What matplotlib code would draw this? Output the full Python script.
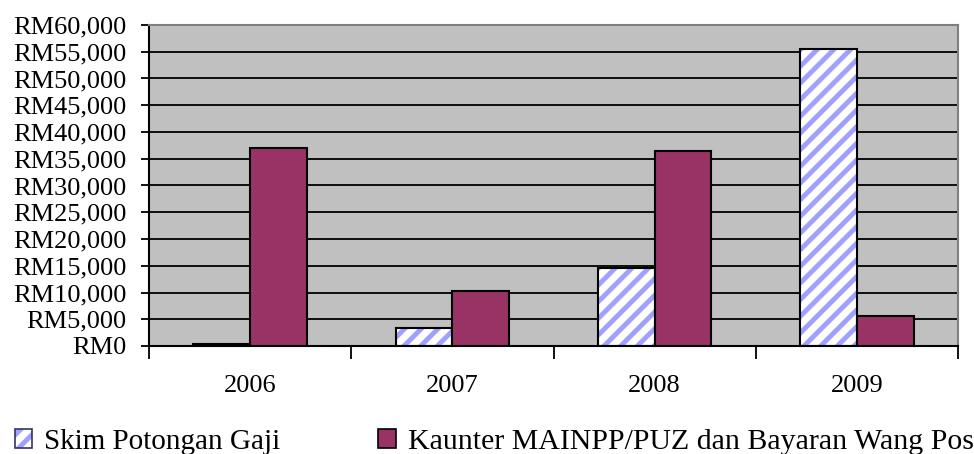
import matplotlib
matplotlib.use("Agg")
import matplotlib.pyplot as plt
import numpy as np
from matplotlib.patches import Patch

years = ["2006", "2007", "2008", "2009"]
skim = [300, 3400, 14500, 55500]
kaunter = [37100, 10200, 36400, 5700]
series_names = ["Skim Potongan Gaji", "Kaunter MAINPP/PUZ dan Bayaran Wang Pos"]
yticks = list(range(0, 60001, 5000))
ytick_labels = ["RM{:,}".format(v) for v in yticks]

plt.rcParams['font.family'] = ['Liberation Serif', 'DejaVu Serif']
plt.rcParams['hatch.linewidth'] = 3.5

fig = plt.figure(figsize=(9.74, 4.54), dpi=100)
ax = fig.add_axes([149/974, 1-346/454, (958-149)/974, (346-25)/454])
ax.set_facecolor('#C0C0C0')

x = np.arange(len(years))
w = 0.28
ax.set_axisbelow(True)
ax.yaxis.grid(True, color='black', linewidth=1.3)

# hatched skim bars
ax.bar(x - w/2, skim, w, facecolor='white', edgecolor='#A0A0FF', hatch='//', linewidth=0, zorder=2)
ax.bar(x - w/2, skim, w, facecolor='none', edgecolor='black', linewidth=1.5, zorder=3)
ax.bar(x + w/2, kaunter, w, facecolor='#993366', edgecolor='black', linewidth=1.5, zorder=3)

ax.set_xlim(-0.5, len(years) - 0.5)
ax.set_ylim(0, 60000)
ax.set_yticks(yticks)
ax.set_yticklabels(ytick_labels, fontsize=19)
ax.tick_params(axis='y', direction='out', length=6, width=1.3, color='black', pad=10)

ax.set_xticks(np.arange(-0.5, len(years), 1.0))
ax.set_xticklabels([])
ax.tick_params(axis='x', which='major', direction='out', length=9, width=1.3)
ax.set_xticks(x, minor=True)
ax.set_xticklabels(years, minor=True, fontsize=19)
ax.tick_params(axis='x', which='minor', length=0, pad=21)

for s in ['top', 'right']:
    ax.spines[s].set_color('#808080')
    ax.spines[s].set_linewidth(1.5)
for s in ['left', 'bottom']:
    ax.spines[s].set_color('black')
    ax.spines[s].set_linewidth(1.5)

h1 = Patch(facecolor='white', edgecolor='#A0A0FF', hatch='//', linewidth=0)
h1b = Patch(facecolor='none', edgecolor='#333366', linewidth=1.2)
h2 = Patch(facecolor='#993366', edgecolor='black', linewidth=1.2)
fig.legend([(h1, h1b)], [series_names[0]], loc='center left',
           bbox_to_anchor=(3/974, 1-442/454), frameon=False, fontsize=21,
           handlelength=0.6, handleheight=0.6, handletextpad=0.4, borderaxespad=0)
fig.legend([h2], [series_names[1]], loc='center left',
           bbox_to_anchor=(366/974, 1-442/454), frameon=False, fontsize=21.5,
           handlelength=0.6, handleheight=0.6, handletextpad=0.4, borderaxespad=0)

fig.savefig("out.png", dpi=100)
